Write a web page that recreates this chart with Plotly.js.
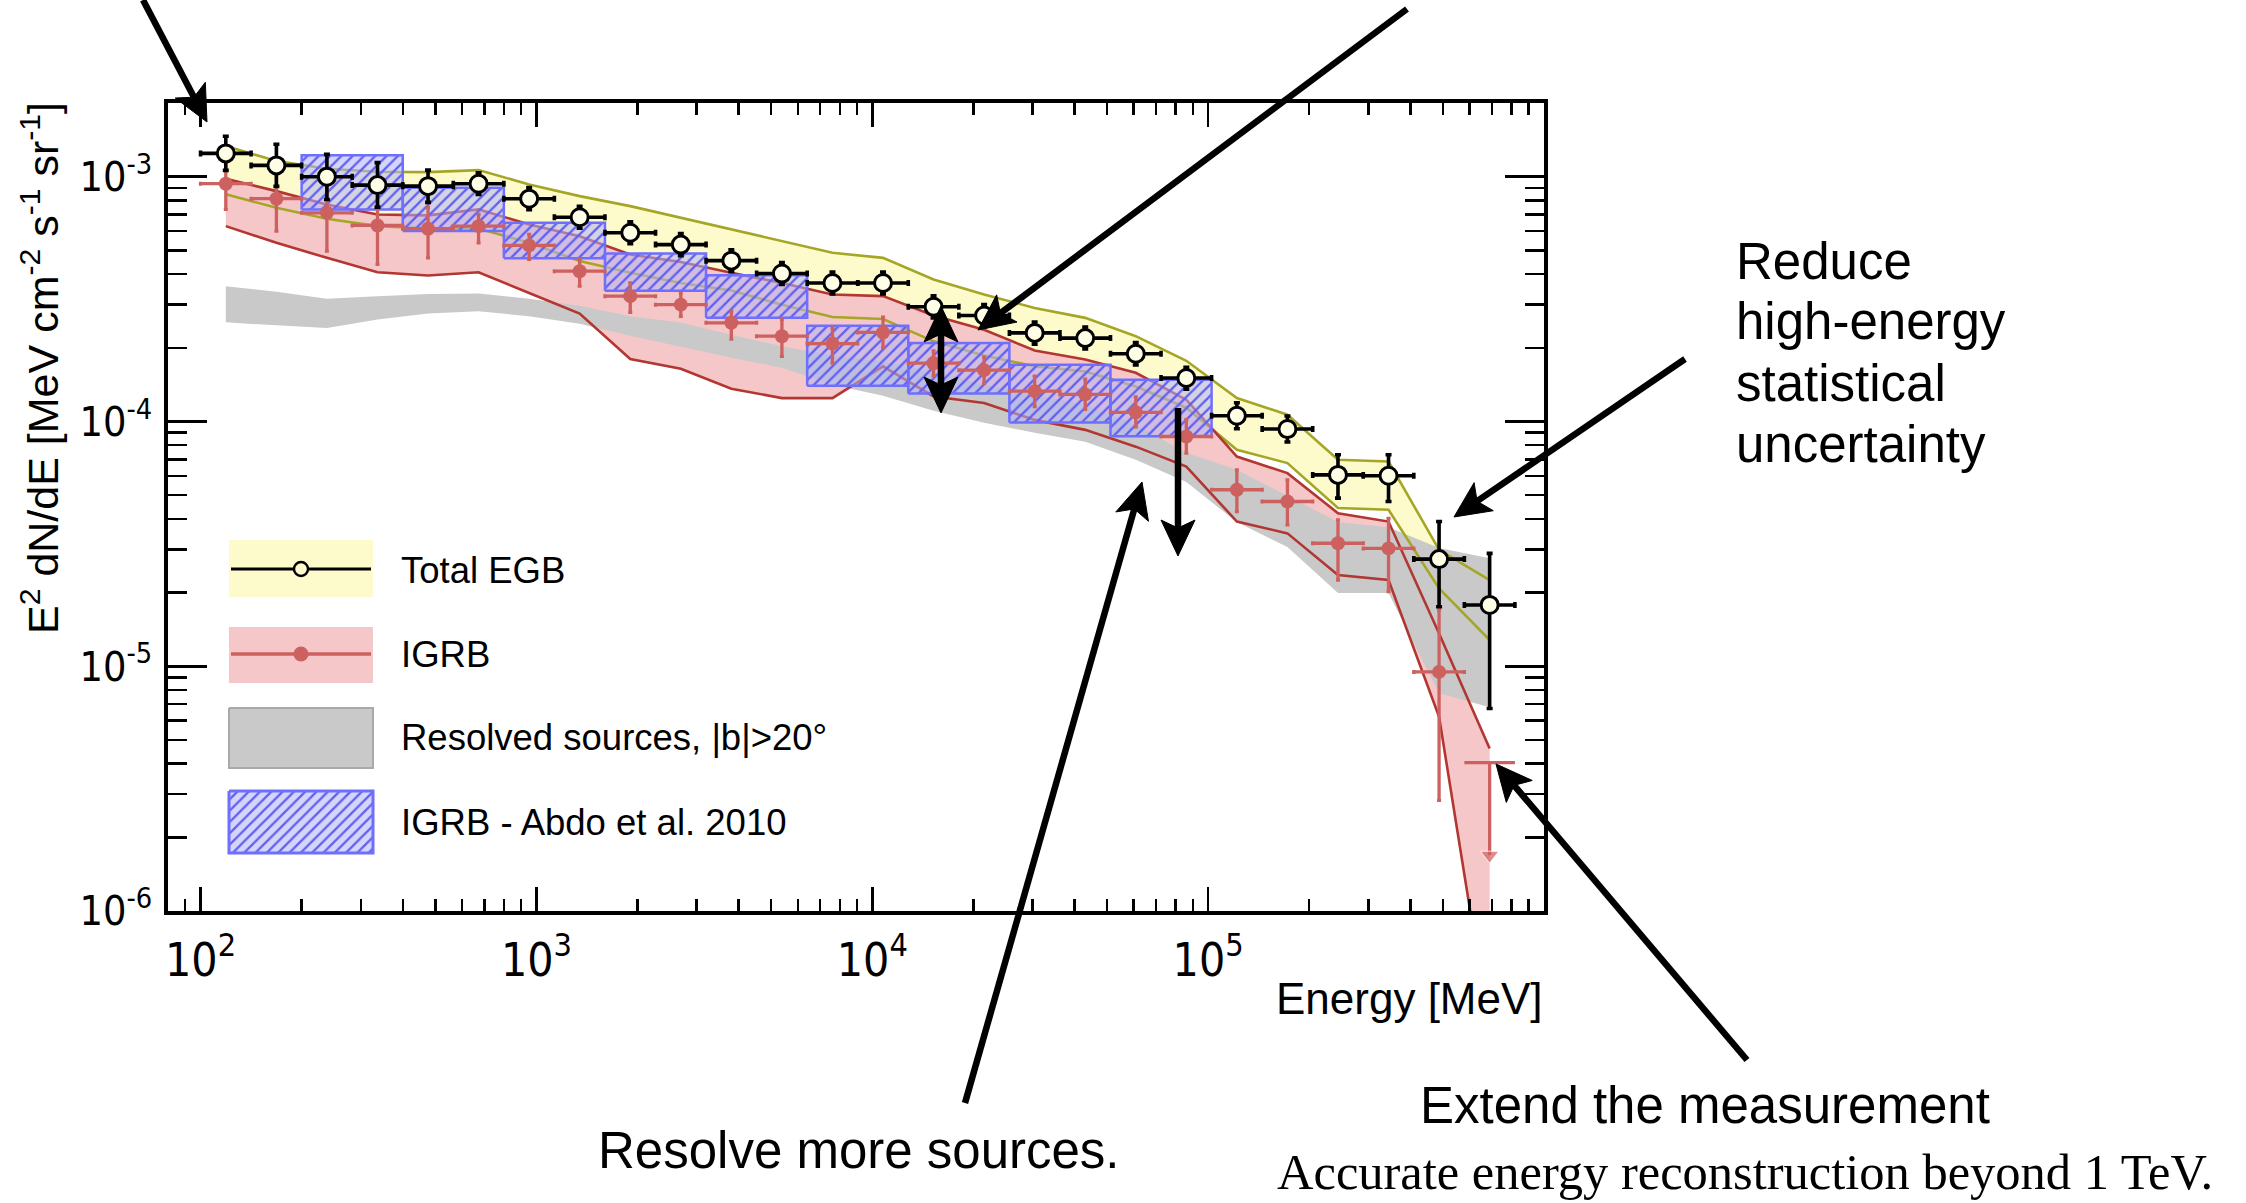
<!DOCTYPE html>
<html>
<head>
<meta charset="utf-8">
<script src="https://cdn.plot.ly/plotly-3.0.1.min.js"></script>
<style>
  html, body { margin: 0; padding: 0; background: #ffffff; }
  #plot { width: 2246px; height: 1203px; }
</style>
</head>
<body>
<div id="plot"></div>
<script>
// ---------------------------------------------------------------------------
// Extragalactic gamma-ray background spectrum: total EGB, IGRB, resolved
// sources and the earlier IGRB measurement, with the planned improvements.
// ---------------------------------------------------------------------------

// Energy binning (MeV): 26 bins between 100 MeV and 820 GeV
const binEdges = [100, 141.4, 200, 282.8, 400, 565.7, 800, 1131, 1600, 2263, 3200,
  4525, 6400, 9051, 12800, 18102, 25600, 36204, 51200, 72408, 102400, 144815,
  204800, 289631, 409600, 579262, 819200];
const binCenters = [118.9, 168.2, 237.8, 336.4, 475.7, 672.7, 951.4, 1345, 1903,
  2691, 3805, 5382, 7611, 10764, 15222, 21527, 30444, 43054, 60888, 86108,
  121775, 172216, 243551, 344432, 487104, 688865];

// Total EGB, E^2 dN/dE [MeV cm^-2 s^-1 sr^-1]
const egbFlux = [1.245e-3, 1.112e-3, 1.0e-3, 9.24e-4, 9.15e-4, 9.36e-4, 8.13e-4,
  6.83e-4, 5.90e-4, 5.28e-4, 4.54e-4, 4.02e-4, 3.68e-4, 3.68e-4, 2.94e-4, 2.71e-4,
  2.30e-4, 2.19e-4, 1.89e-4, 1.505e-4, 1.055e-4, 9.31e-5, 6.05e-5, 6.0e-5,
  2.74e-5, 1.78e-5];
const egbErrUp = [2.17e-4, 2.44e-4, 2.34e-4, 2.17e-4, 1.49e-4, 1.02e-4, 8.9e-5,
  7.4e-5, 6.4e-5, 5.8e-5, 4.9e-5, 4.4e-5, 4.0e-5, 4.0e-5, 3.2e-5, 2.9e-5, 2.5e-5,
  2.4e-5, 2.1e-5, 1.6e-5, 1.37e-5, 1.21e-5, 1.26e-5, 1.31e-5, 1.16e-5, 1.11e-5];
const egbErrDown = [1.84e-4, 1.99e-4, 1.93e-4, 1.73e-4, 1.30e-4, 9.0e-5, 8.0e-5,
  6.7e-5, 5.8e-5, 5.2e-5, 4.4e-5, 3.9e-5, 3.6e-5, 3.6e-5, 2.9e-5, 2.7e-5, 2.3e-5,
  2.1e-5, 1.9e-5, 1.5e-5, 1.21e-5, 1.07e-5, 1.19e-5, 1.29e-5, 0.99e-5, 1.108e-5];
// Total EGB systematic band
const egbBandHigh = [1.334e-3, 1.158e-3, 1.078e-3, 1.048e-3, 1.044e-3, 1.064e-3,
  9.30e-4, 8.33e-4, 7.58e-4, 6.79e-4, 6.09e-4, 5.45e-4, 4.89e-4, 4.66e-4, 3.80e-4,
  3.30e-4, 2.91e-4, 2.65e-4, 2.23e-4, 1.77e-4, 1.247e-4, 1.065e-4, 6.97e-5,
  6.86e-5, 2.99e-5, 2.25e-5];
const egbBandLow = [8.47e-4, 7.47e-4, 6.73e-4, 6.28e-4, 6.14e-4, 6.14e-4, 5.37e-4,
  4.52e-4, 4.05e-4, 3.68e-4, 3.43e-4, 3.0e-4, 2.67e-4, 2.62e-4, 2.125e-4, 1.86e-4,
  1.68e-4, 1.60e-4, 1.39e-4, 1.138e-4, 7.66e-5, 6.76e-5, 4.43e-5, 4.36e-5,
  2.08e-5, 1.28e-5];

// IGRB (25 measured bins + upper limit in the last bin)
const igrbFlux = [9.36e-4, 8.13e-4, 7.12e-4, 6.32e-4, 6.13e-4, 6.28e-4, 5.24e-4,
  4.11e-4, 3.25e-4, 3.0e-4, 2.53e-4, 2.23e-4, 2.08e-4, 2.31e-4, 1.73e-4, 1.62e-4,
  1.33e-4, 1.29e-4, 1.09e-4, 8.68e-5, 5.26e-5, 4.71e-5, 3.18e-5, 3.03e-5, 9.48e-6];
const igrbErrUp = [1.25e-4, 2.09e-4, 2.18e-4, 2.28e-4, 1.34e-4, 7.3e-5, 5.7e-5,
  4.8e-5, 4.3e-5, 3.5e-5, 2.9e-5, 3.8e-5, 3.3e-5, 3.6e-5, 2.1e-5, 2.1e-5, 2.0e-5,
  2.0e-5, 1.7e-5, 1.48e-5, 1.08e-5, 1.06e-5, 7.8e-6, 9.9e-6, 7.5e-6];
const igrbErrDown = [2.01e-4, 2.14e-4, 2.16e-4, 1.94e-4, 1.47e-4, 9.1e-5, 6.5e-5,
  5.4e-5, 4.6e-5, 3.1e-5, 3.6e-5, 3.85e-5, 3.5e-5, 3.1e-5, 1.9e-5, 1.9e-5, 1.8e-5,
  1.7e-5, 1.4e-5, 1.25e-5, 9.8e-6, 9.3e-6, 9.3e-6, 1.01e-5, 6.65e-6];
const igrbUpperLimit = 4.04e-6;
const igrbUpperLimitArrowTo = 1.69e-6;
// IGRB systematic band
const igrbBandHigh = [9.81e-4, 8.73e-4, 7.70e-4, 7.01e-4, 6.95e-4, 7.35e-4, 6.38e-4,
  5.71e-4, 4.81e-4, 4.48e-4, 4.05e-4, 3.68e-4, 3.30e-4, 3.25e-4, 2.71e-4, 2.37e-4,
  1.95e-4, 1.79e-4, 1.58e-4, 1.227e-4, 7.19e-5, 6.15e-5, 4.22e-5, 3.90e-5,
  1.36e-5, 4.61e-6];
const igrbBandLow = [6.28e-4, 5.37e-4, 4.66e-4, 4.07e-4, 3.95e-4, 4.07e-4, 3.35e-4,
  2.76e-4, 1.80e-4, 1.643e-4, 1.36e-4, 1.246e-4, 1.246e-4, 1.68e-4, 1.265e-4,
  1.19e-4, 1.015e-4, 9.24e-5, 7.89e-5, 6.54e-5, 3.90e-5, 3.49e-5, 2.36e-5,
  2.25e-5, 6.21e-6, 3.2e-7];

// Resolved sources, |b| > 20 deg
const resolvedHigh = [3.57e-4, 3.385e-4, 3.17e-4, 3.25e-4, 3.32e-4, 3.33e-4,
  3.17e-4, 2.97e-4, 2.69e-4, 2.535e-4, 2.26e-4, 2.03e-4, 1.857e-4, 1.755e-4,
  1.597e-4, 1.413e-4, 1.286e-4, 1.17e-4, 9.69e-5, 7.45e-5, 6.34e-5, 4.97e-5,
  3.88e-5, 3.70e-5, 3.04e-5, 2.76e-5];
const resolvedLow = [2.54e-4, 2.47e-4, 2.41e-4, 2.61e-4, 2.76e-4, 2.82e-4, 2.69e-4,
  2.51e-4, 2.24e-4, 2.02e-4, 1.82e-4, 1.659e-4, 1.413e-4, 1.274e-4, 1.106e-4,
  9.88e-5, 8.99e-5, 8.26e-5, 6.97e-5, 5.66e-5, 3.88e-5, 3.07e-5, 1.99e-5,
  1.99e-5, 7.76e-6, 6.80e-6];

// IGRB - Abdo et al. 2010 (energy range and flux range of each box)
const abdoELow = [200, 400, 800, 1600, 3200, 6400, 12800, 25600, 51200];
const abdoEHigh = [400, 800, 1600, 3200, 6400, 12800, 25600, 51200, 102400];
const abdoFluxLow = [7.35e-4, 6.0e-4, 4.64e-4, 3.42e-4, 2.65e-4, 1.40e-4, 1.30e-4,
  9.9e-5, 8.7e-5];
const abdoFluxHigh = [1.222e-3, 9.02e-4, 6.48e-4, 4.85e-4, 3.96e-4, 2.46e-4,
  2.09e-4, 1.706e-4, 1.481e-4];

// Axis ticks
const xTickVals = [1e2, 1e3, 1e4, 1e5];
const xTickText = ['10<sup>2</sup>', '10<sup>3</sup>', '10<sup>4</sup>', '10<sup>5</sup>'];
const yTickVals = [1e-6, 1e-5, 1e-4, 1e-3];
const yTickText = ['10<sup>-6</sup>', '10<sup>-5</sup>', '10<sup>-4</sup>', '10<sup>-3</sup>'];

// Legend entries
const legendLabels = ['Total EGB', 'IGRB', 'Resolved sources, |b|>20°',
  'IGRB - Abdo et al. 2010'];

// ---------------------------------------------------------------------------
const SANS = '"Liberation Sans", Arial, Helvetica, sans-serif';
const NARROW = '"Liberation Sans Narrow", "Arial Narrow", "DejaVu Sans Condensed", "Liberation Sans", sans-serif';
const SERIF = '"Liberation Serif", "Times New Roman", serif';

const C = {
  yellowFill: '#fdfbcc', olive: '#a6a626',
  pinkFill: '#f6c7c8', darkRed: '#b23631', redPt: '#cd6160',
  grayFill: '#c9c9c9', grayEdge: '#a9a9a9',
  blueEdge: '#6f6fff', hatch: '#5f5ff2', hatchBg: 'rgba(178,178,248,0.55)'
};

// plot area in page pixels
const PL = 168, PT = 103, PW = 1376, PH = 808;
const hx = v => v - PL;               // page x -> overlay coordinate
const hy = v => v - PT;               // page y -> overlay coordinate
const pxp = v => (v - PL) / PW;       // page x -> paper
const pyp = v => (PT + PH - v) / PH;  // page y -> paper

function band(lo, hi) {
  return {
    x: binCenters.concat(binCenters.slice().reverse()),
    y: hi.concat(lo.slice().reverse())
  };
}

const traces = [];

const egbB = band(egbBandLow, egbBandHigh);
traces.push({ x: egbB.x, y: egbB.y, mode: 'none', fill: 'toself',
  fillcolor: C.yellowFill, hoverinfo: 'skip' });
const igrbB = band(igrbBandLow, igrbBandHigh);
traces.push({ x: igrbB.x, y: igrbB.y, mode: 'none', fill: 'toself',
  fillcolor: C.pinkFill, hoverinfo: 'skip' });
const resB = band(resolvedLow, resolvedHigh);
traces.push({ x: resB.x, y: resB.y, mode: 'none', fill: 'toself',
  fillcolor: C.grayFill, hoverinfo: 'skip' });

// band outlines
[[egbBandHigh, C.olive], [egbBandLow, C.olive],
 [igrbBandHigh, C.darkRed], [igrbBandLow, C.darkRed]].forEach(([arr, col]) => {
  traces.push({ x: binCenters, y: arr, mode: 'lines',
    line: { color: col, width: 2.6 }, hoverinfo: 'skip' });
});

// hatched boxes
const bx = [], by = [];
abdoELow.forEach((e0, i) => {
  const e1 = abdoEHigh[i], f0 = abdoFluxLow[i], f1 = abdoFluxHigh[i];
  bx.push(e0, e1, e1, e0, e0, null);
  by.push(f0, f0, f1, f1, f0, null);
});
traces.push({ x: bx, y: by, mode: 'lines', fill: 'toself',
  line: { color: C.blueEdge, width: 2.5 }, fillcolor: C.hatchBg,
  fillpattern: { shape: '/', fgcolor: C.hatch, bgcolor: C.hatchBg, size: 8, solidity: 0.28 },
  connectgaps: false, hoverinfo: 'skip' });

// IGRB points
const nI = igrbFlux.length;
const igrbE = binCenters.slice(0, nI);
traces.push({
  x: igrbE, y: igrbFlux, mode: 'markers',
  marker: { symbol: 'circle', size: 14, color: C.redPt },
  error_x: { type: 'data', symmetric: false,
    array: igrbE.map((e, i) => binEdges[i + 1] - e),
    arrayminus: igrbE.map((e, i) => e - binEdges[i]),
    color: C.redPt, thickness: 3.3, width: 2 },
  error_y: { type: 'data', symmetric: false, array: igrbErrUp, arrayminus: igrbErrDown,
    color: C.redPt, thickness: 3.3, width: 2 },
  hoverinfo: 'skip'
});
// IGRB upper limit in the last bin
const eLast = binCenters[binCenters.length - 1];
traces.push({ x: [binEdges[nI], binEdges[nI + 1]], y: [igrbUpperLimit, igrbUpperLimit],
  mode: 'lines', line: { color: C.redPt, width: 3.3 }, hoverinfo: 'skip' });
traces.push({ x: [eLast, eLast], y: [igrbUpperLimit, igrbUpperLimitArrowTo],
  mode: 'lines+markers', line: { color: C.redPt, width: 3.3 },
  marker: { symbol: 'triangle-down', size: [0, 16], color: C.redPt },
  hoverinfo: 'skip' });

// Total EGB points
traces.push({
  x: binCenters, y: egbFlux, mode: 'markers',
  marker: { symbol: 'circle', size: 17, color: '#fefde6', line: { color: '#000', width: 3 } },
  error_x: { type: 'data', symmetric: false,
    array: binCenters.map((e, i) => binEdges[i + 1] - e),
    arrayminus: binCenters.map((e, i) => e - binEdges[i]),
    color: '#000', thickness: 3.6, width: 3 },
  error_y: { type: 'data', symmetric: false, array: egbErrUp, arrayminus: egbErrDown,
    color: '#000', thickness: 3.6, width: 3 },
  hoverinfo: 'skip'
});

// ---------------- legend (drawn on an overlay in page pixels) -------------
const lgX0 = hx(229), lgX1 = hx(373), lgXm = hx(301);
const lgRows = [[540, 597], [627, 683], [708, 768], [791, 853]];
const sw = r => ({ x: [lgX0, lgX1, lgX1, lgX0, lgX0],
  y: [hy(r[0]), hy(r[0]), hy(r[1]), hy(r[1]), hy(r[0])] });
const s0 = sw(lgRows[0]), s1 = sw(lgRows[1]), s2 = sw(lgRows[2]), s3 = sw(lgRows[3]);
traces.push({ x: s0.x, y: s0.y, xaxis: 'x2', yaxis: 'y2', mode: 'none', fill: 'toself',
  fillcolor: C.yellowFill, hoverinfo: 'skip' });
traces.push({ x: [lgX0 + 2, lgX1 - 2], y: [hy(569), hy(569)], xaxis: 'x2', yaxis: 'y2',
  mode: 'lines', line: { color: '#000', width: 3.2 }, hoverinfo: 'skip' });
traces.push({ x: [lgXm], y: [hy(569)], xaxis: 'x2', yaxis: 'y2', mode: 'markers',
  marker: { symbol: 'circle', size: 14, color: C.yellowFill, line: { color: '#000', width: 2.4 } },
  hoverinfo: 'skip' });
traces.push({ x: s1.x, y: s1.y, xaxis: 'x2', yaxis: 'y2', mode: 'none', fill: 'toself',
  fillcolor: C.pinkFill, hoverinfo: 'skip' });
traces.push({ x: [lgX0 + 2, lgX1 - 2], y: [hy(654), hy(654)], xaxis: 'x2', yaxis: 'y2',
  mode: 'lines', line: { color: C.redPt, width: 3.6 }, hoverinfo: 'skip' });
traces.push({ x: [lgXm], y: [hy(654)], xaxis: 'x2', yaxis: 'y2', mode: 'markers',
  marker: { symbol: 'circle', size: 15, color: C.redPt }, hoverinfo: 'skip' });
traces.push({ x: s2.x, y: s2.y, xaxis: 'x2', yaxis: 'y2', mode: 'lines', fill: 'toself',
  fillcolor: C.grayFill, line: { color: C.grayEdge, width: 2 }, hoverinfo: 'skip' });
traces.push({ x: s3.x, y: s3.y, xaxis: 'x2', yaxis: 'y2', mode: 'lines', fill: 'toself',
  fillcolor: C.hatchBg, line: { color: C.blueEdge, width: 3 },
  fillpattern: { shape: '/', fgcolor: C.hatch, bgcolor: C.hatchBg, size: 8, solidity: 0.28 },
  hoverinfo: 'skip' });

// ---------------- annotations --------------------------------------------
const annotations = [];
const textAt = (x, y, text, font, xanchor, extra) => Object.assign({
  xref: 'paper', yref: 'paper', x: pxp(x), y: pyp(y), xanchor: xanchor || 'center',
  yanchor: 'middle', text: text, showarrow: false, font: font
}, extra || {});

const lgTextY = [570, 654, 737, 822];
legendLabels.forEach((t, i) => annotations.push(
  textAt(399, lgTextY[i], t, { family: SANS, size: 36.5, color: '#000' }, 'left')));

// axis titles
annotations.push(textAt(1545, 998, 'Energy [MeV]',
  { family: SANS, size: 44, color: '#000' }, 'right'));
annotations.push(textAt(40, 368,
  'E<sup>2</sup> dN/dE [MeV cm<sup>-2</sup> s<sup>-1</sup> sr<sup>-1</sup>]',
  { family: SANS, size: 43, color: '#000' }, 'center', { textangle: -90 }));

// call-out texts
const reduceLines = ['Reduce', 'high-energy', 'statistical', 'uncertainty'];
const reduceY = [261, 321, 383, 444];
reduceLines.forEach((t, i) => annotations.push(
  textAt(1734, reduceY[i], t, { family: SANS, size: 51, color: '#000' }, 'left')));
annotations.push(textAt(859, 1150, 'Resolve more sources.',
  { family: SANS, size: 51, color: '#000' }));
annotations.push(textAt(1705, 1105, 'Extend the measurement',
  { family: SANS, size: 51, color: '#000' }));
annotations.push(textAt(1745, 1172, 'Accurate energy reconstruction beyond 1 TeV.',
  { family: SERIF, size: 50.5, color: '#000' }));

// ---------------- arrows (shaft + notched head, page pixels) -------------
// [tail x, tail y, tip x, tip y, head at both ends]
const arrows = [
  [143, 0, 207, 122, false],
  [1407, 9, 978, 330, false],
  [941, 306, 941, 413, true],
  [1178, 408, 1178, 556, false],
  [965, 1103, 1142, 482, false],
  [1685, 359, 1454, 517, false],
  [1747, 1060, 1496, 764, false]
];
const HEAD_LEN = 36, HEAD_HALF = 17, NOTCH = 8, SHAFT = 6.5;
const shapes = [];
function headPath(tx, ty, ux, uy) {
  const nx = -uy, ny = ux;
  const pts = [
    [tx, ty],
    [tx - HEAD_LEN * ux + HEAD_HALF * nx, ty - HEAD_LEN * uy + HEAD_HALF * ny],
    [tx - (HEAD_LEN - NOTCH) * ux, ty - (HEAD_LEN - NOTCH) * uy],
    [tx - HEAD_LEN * ux - HEAD_HALF * nx, ty - HEAD_LEN * uy - HEAD_HALF * ny]
  ];
  return 'M' + pts.map(p => pxp(p[0]).toFixed(5) + ',' + pyp(p[1]).toFixed(5)).join('L') + 'Z';
}
arrows.forEach(([x0, y0, x1, y1, both]) => {
  const len = Math.hypot(x1 - x0, y1 - y0);
  const ux = (x1 - x0) / len, uy = (y1 - y0) / len;
  const back = HEAD_LEN - NOTCH;
  const sx0 = both ? x0 + back * ux : x0, sy0 = both ? y0 + back * uy : y0;
  shapes.push({ type: 'line', xref: 'paper', yref: 'paper',
    x0: pxp(sx0), y0: pyp(sy0), x1: pxp(x1 - back * ux), y1: pyp(y1 - back * uy),
    line: { color: '#000', width: SHAFT } });
  shapes.push({ type: 'path', xref: 'paper', yref: 'paper', path: headPath(x1, y1, ux, uy),
    fillcolor: '#000', line: { color: '#000', width: 1 } });
  if (both) shapes.push({ type: 'path', xref: 'paper', yref: 'paper',
    path: headPath(x0, y0, -ux, -uy), fillcolor: '#000', line: { color: '#000', width: 1 } });
});

// minor tick positions
const xMinor = [], yMinor = [];
for (let d = 1; d <= 5; d++) for (let k = 2; k <= 9; k++) {
  const v = k * Math.pow(10, d);
  if (v > 80 && v < 1e6) xMinor.push(v);
}
for (let d = -6; d <= -3; d++) for (let k = 2; k <= 9; k++) {
  const v = k * Math.pow(10, d);
  if (v < 2e-3) yMinor.push(v);
}

const axisCommon = {
  type: 'log', tickmode: 'array', ticks: 'inside', tickcolor: '#000', tickwidth: 2.6,
  showline: true, linecolor: '#000', linewidth: 3.6, mirror: 'ticks',
  showgrid: false, zeroline: false, fixedrange: true,
  tickfont: { family: NARROW, size: 46, color: '#000' }
};

const layout = {
  width: 2246, height: 1203,
  margin: { l: PL, r: 2246 - PL - PW, t: PT, b: 1203 - PT - PH, pad: 0 },
  paper_bgcolor: '#ffffff', plot_bgcolor: '#ffffff',
  showlegend: false,
  font: { family: SANS, color: '#000' },
  xaxis: Object.assign({}, axisCommon, {
    range: [Math.log10(80), 6], tickvals: xTickVals, ticktext: xTickText,
    ticklen: 24, ticklabelstandoff: 6,
    minor: { tickmode: 'array', tickvals: xMinor, ticks: 'inside', ticklen: 12,
      tickwidth: 2.4, tickcolor: '#000', showgrid: false }
  }),
  yaxis: Object.assign({}, axisCommon, {
    range: [-6, Math.log10(2e-3)], tickvals: yTickVals, ticktext: yTickText,
    ticklen: 39, ticklabelstandoff: 4,
    tickfont: { family: NARROW, size: 41, color: '#000' },
    minor: { tickmode: 'array', tickvals: yMinor, ticks: 'inside', ticklen: 19,
      tickwidth: 2.4, tickcolor: '#000', showgrid: false }
  }),
  xaxis2: { overlaying: 'x', anchor: 'y2', range: [0, PW], visible: false, fixedrange: true },
  yaxis2: { overlaying: 'y', anchor: 'x2', range: [PH, 0], visible: false, fixedrange: true },
  annotations: annotations,
  shapes: shapes
};

Plotly.newPlot('plot', traces, layout, { staticPlot: true, displayModeBar: false });
</script>
</body>
</html>
